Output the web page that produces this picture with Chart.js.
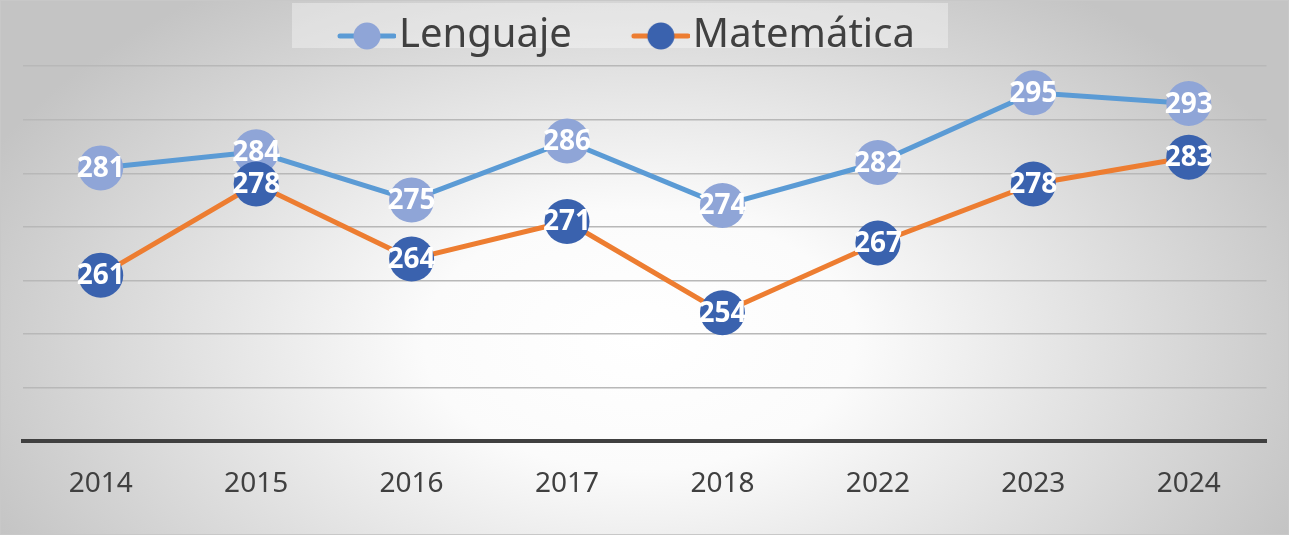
<!DOCTYPE html>
<html>
<head>
<meta charset="utf-8">
<script src="https://cdn.jsdelivr.net/npm/chart.js@4/dist/chart.umd.min.js"></script>
<style>
  html, body { margin: 0; padding: 0; background: #fff; }
  #wrap { width: 1289px; height: 535px; }
</style>
</head>
<body>
<div id="wrap"><canvas id="c" width="1289" height="535"></canvas></div>
<script>
// data
const years = ['2014', '2015', '2016', '2017', '2018', '2022', '2023', '2024'];
const lenguaje = [281, 284, 275, 286, 274, 282, 295, 293];
const matematica = [261, 278, 264, 271, 254, 267, 278, 283];
const yTicks = [230, 240, 250, 260, 270, 280, 290, 300];

const LANG_LINE = '#5B9BD5', LANG_DOT = '#8FA5D7';
const MATH_LINE = '#ED7D31', MATH_DOT = '#3A62AE';
const FONT = "'Noto Sans', 'DejaVu Sans', sans-serif";

// legend marker: line with a circle in the middle, pushed to the right of its box
function legendMarker(lineColor, dotColor) {
  const cv = document.createElement('canvas');
  cv.width = 121; cv.height = 32;
  const g = cv.getContext('2d');
  g.strokeStyle = lineColor; g.lineWidth = 5; g.lineCap = 'round';
  g.beginPath(); g.moveTo(65, 16); g.lineTo(119, 16); g.stroke();
  g.fillStyle = dotColor;
  g.beginPath(); g.arc(92, 16, 13.5, 0, Math.PI * 2); g.fill();
  return cv;
}
const markers = [legendMarker(LANG_LINE, LANG_DOT), legendMarker(MATH_LINE, MATH_DOT)];

const bgPlugin = {
  id: 'bg',
  beforeDraw(chart) {
    const { ctx, width, height } = chart;
    ctx.save();
    ctx.translate(640, 340);
    ctx.scale(1, 0.6);
    const grad = ctx.createRadialGradient(0, 0, 0, 0, 0, 720);
    grad.addColorStop(0, '#ffffff');
    grad.addColorStop(0.3, '#fbfbfb');
    grad.addColorStop(1, '#c4c4c4');
    ctx.fillStyle = grad;
    ctx.fillRect(-700, -600, 1400, 1200);
    ctx.restore();
    // lighter strip behind the legend
    const boxes = chart.legend.legendHitBoxes;
    if (boxes && boxes.length) {
      const last = boxes[boxes.length - 1];
      const l = boxes[0].left, r = last.left + last.width - 50;
      ctx.fillStyle = 'rgba(255,255,255,0.35)';
      ctx.fillRect(l, 3, r - l, 45);
    }
    ctx.strokeStyle = '#c8c8c8';
    ctx.lineWidth = 1;
    ctx.strokeRect(0.5, 0.5, width - 1, height - 1);
  }
};

const labelPlugin = {
  id: 'valueLabels',
  afterDatasetsDraw(chart) {
    const ctx = chart.ctx;
    ctx.save();
    ctx.font = 'bold 28px ' + FONT;
    ctx.fillStyle = '#ffffff';
    ctx.textAlign = 'center';
    ctx.textBaseline = 'middle';
    chart.data.datasets.forEach((ds, i) => {
      chart.getDatasetMeta(i).data.forEach((pt, j) => {
        ctx.fillText(String(ds.data[j]), pt.x, pt.y + 1);
      });
    });
    ctx.restore();
  }
};

new Chart(document.getElementById('c'), {
  type: 'line',
  data: {
    labels: years,
    datasets: [
      { label: 'Lenguaje', data: lenguaje, borderColor: LANG_LINE, backgroundColor: LANG_DOT, borderWidth: 5,
        pointRadius: 22.5, pointHoverRadius: 22.5, pointBackgroundColor: LANG_DOT, pointBorderWidth: 0, tension: 0, order: 2 },
      { label: 'Matemática', data: matematica, borderColor: MATH_LINE, backgroundColor: MATH_DOT, borderWidth: 5,
        pointRadius: 22.5, pointHoverRadius: 22.5, pointBackgroundColor: MATH_DOT, pointBorderWidth: 0, tension: 0, order: 1 }
    ]
  },
  options: {
    responsive: false,
    animation: false,
    layout: { padding: { left: 23, right: 22, top: 2, bottom: 8 } },
    plugins: {
      tooltip: { enabled: false },
      legend: {
        position: 'top',
        labels: {
          font: { family: FONT, size: 40 },
          color: '#404040',
          usePointStyle: true,
          pointStyleWidth: 87,
          boxHeight: 32,
          padding: 14,
          sort: (a, b) => a.datasetIndex - b.datasetIndex,
          generateLabels(chart) {
            const items = Chart.defaults.plugins.legend.labels.generateLabels(chart);
            items.forEach(it => {
              it.pointStyle = markers[it.datasetIndex];
              // trailing room so the row sits a little left of centre, as in the original
              if (it.datasetIndex === 1) it.text += '        ';
            });
            return items;
          }
        }
      }
    },
    scales: {
      x: {
        offset: true,
        grid: { display: true, color: 'transparent', drawTicks: false },
        border: { display: true, color: '#404040', width: 4 },
        ticks: { font: { family: FONT, size: 28 }, color: '#404040', padding: 26 }
      },
      y: {
        min: yTicks[0], max: yTicks[yTicks.length - 1],
        afterBuildTicks(scale) { scale.ticks = yTicks.map(v => ({ value: v })); },
        grid: { color: '#b8b8b8', lineWidth: 1.5, drawTicks: false },
        border: { display: false },
        ticks: { display: false }
      }
    }
  },
  plugins: [bgPlugin, labelPlugin]
});
</script>
</body>
</html>
